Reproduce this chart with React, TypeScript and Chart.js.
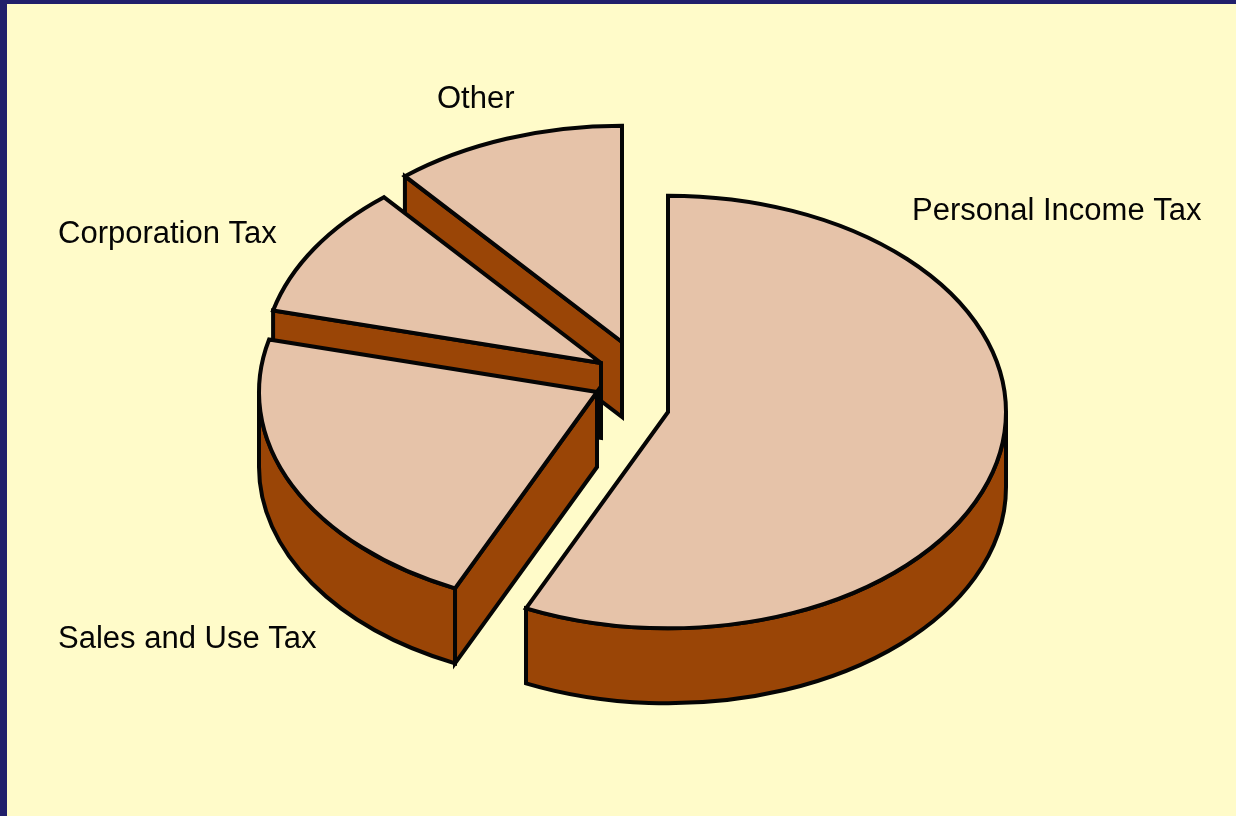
import React, { useEffect, useRef } from "react";
import { Chart, registerables } from "chart.js";

Chart.register(...registerables);

const categories = ["Personal Income Tax", "Sales and Use Tax", "Corporation Tax", "Other"];
const shares = [56.9, 22, 10, 11.1];

const sliceShiftX = [50, -21, -17, 4];
const sliceShiftY = [4, -16, -45, -66];
const labelX = [912, 58, 58, 437];
const labelY = [220, 648, 243, 108];

const TILT = 0.64;
const DEPTH = 75;
const LINE = 4;
const PIE_RADIUS = 338;
const TOP_COLOR = "#E6C3A9";
const WALL_COLOR = "#9A4506";
const INK = "#050505";

const piePlugin = {
  id: "tiltedPie",
  beforeDatasetsDraw(chart: any) {
    const ctx = chart.ctx as CanvasRenderingContext2D;
    const arcs = chart.getDatasetMeta(0).data;
    ctx.save();
    ctx.lineWidth = LINE;
    ctx.lineJoin = "miter";
    ctx.miterLimit = 4;
    ctx.strokeStyle = INK;
    for (let i = arcs.length - 1; i >= 0; i--) {
      const arc = arcs[i];
      const a0 = arc.startAngle;
      const a1 = arc.endAngle;
      const rx = arc.outerRadius;
      const ry = rx * TILT;
      const cx = arc.x + sliceShiftX[i];
      const cy = arc.y + sliceShiftY[i];
      ctx.fillStyle = WALL_COLOR;
      // visible radial cut face
      if (Math.cos(a0) < -1e-6) {
        const ex = cx + rx * Math.cos(a0);
        const ey = cy + ry * Math.sin(a0);
        ctx.beginPath();
        ctx.moveTo(cx, cy);
        ctx.lineTo(ex, ey);
        ctx.lineTo(ex, ey + DEPTH);
        ctx.lineTo(cx, cy + DEPTH);
        ctx.closePath();
        ctx.fill();
        ctx.stroke();
      }
      // visible rim, on the front half of the ellipse
      const s = Math.max(a0, 0);
      const e = Math.min(a1, Math.PI);
      if (e > s) {
        ctx.beginPath();
        ctx.ellipse(cx, cy, rx, ry, 0, s, e);
        ctx.ellipse(cx, cy + DEPTH, rx, ry, 0, e, s, true);
        ctx.closePath();
        ctx.fill();
        ctx.stroke();
      }
      // top face
      ctx.fillStyle = TOP_COLOR;
      ctx.beginPath();
      ctx.moveTo(cx, cy);
      ctx.ellipse(cx, cy, rx, ry, 0, a0, a1);
      ctx.closePath();
      ctx.fill();
      ctx.stroke();
    }
    ctx.restore();
    return false;
  },
  afterDraw(chart: any) {
    const ctx = chart.ctx as CanvasRenderingContext2D;
    ctx.save();
    ctx.font = '31px "Liberation Sans", Arial, sans-serif';
    ctx.fillStyle = INK;
    ctx.textAlign = "left";
    ctx.textBaseline = "alphabetic";
    chart.data.labels.forEach((t: string, i: number) => ctx.fillText(t, labelX[i], labelY[i]));
    ctx.restore();
  },
};

export default function App() {
  const ref = useRef<HTMLCanvasElement | null>(null);
  useEffect(() => {
    const chart = new Chart(ref.current as HTMLCanvasElement, {
      type: "pie",
      data: {
        labels: categories,
        datasets: [{ data: shares, backgroundColor: TOP_COLOR, borderColor: INK, borderWidth: LINE, radius: PIE_RADIUS }],
      },
      options: {
        responsive: false,
        animation: false,
        layout: { padding: { top: 66, bottom: 66, left: 0, right: 0 } },
        plugins: { legend: { display: false }, tooltip: { enabled: false } },
      },
      plugins: [piePlugin],
    } as any);
    return () => chart.destroy();
  }, []);
  return (
    <div style={{ position: "fixed", left: 0, top: 0, width: 1236, height: 816, background: "#211F6B", overflow: "hidden" }}>
      <div style={{ position: "absolute", left: 7, top: 4, right: 0, bottom: 0, background: "#FFFBC9" }} />
      <canvas ref={ref} width={1236} height={816} style={{ position: "absolute", left: 0, top: 0, display: "block" }} />
    </div>
  );
}
